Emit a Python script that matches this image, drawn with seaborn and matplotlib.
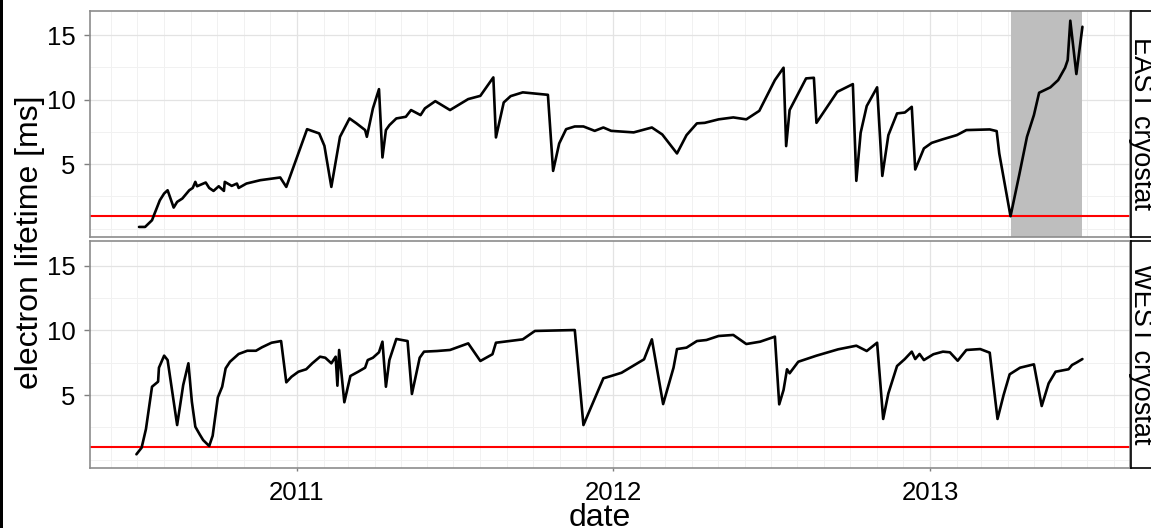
import matplotlib
matplotlib.use("Agg")
import matplotlib.pyplot as plt
import matplotlib.dates as mdates
from matplotlib.patches import Rectangle
import pandas as pd
import seaborn as sns

# ---- data -------------------------------------------------------------
east_dates = [
    "2010-07-03", "2010-07-10", "2010-07-18", "2010-07-21", "2010-07-27", "2010-08-01",
    "2010-08-05", "2010-08-12", "2010-08-16", "2010-08-22", "2010-08-30", "2010-09-03",
    "2010-09-06", "2010-09-08", "2010-09-18", "2010-09-22", "2010-09-27", "2010-10-03",
    "2010-10-09", "2010-10-10", "2010-10-18", "2010-10-24", "2010-10-26", "2010-11-04",
    "2010-11-20", "2010-12-13", "2010-12-20", "2011-01-13", "2011-01-27", "2011-02-02",
    "2011-02-10", "2011-02-16", "2011-02-20", "2011-03-03", "2011-03-11", "2011-03-21",
    "2011-03-23", "2011-03-30", "2011-04-06", "2011-04-10", "2011-04-14", "2011-04-18",
    "2011-04-26", "2011-05-07", "2011-05-13", "2011-05-24", "2011-05-29", "2011-06-10",
    "2011-06-27", "2011-07-18", "2011-08-01", "2011-08-16", "2011-08-19", "2011-08-28",
    "2011-09-05", "2011-09-19", "2011-10-18", "2011-10-24", "2011-10-31", "2011-11-08",
    "2011-11-18", "2011-11-28", "2011-12-11", "2011-12-21", "2011-12-30", "2012-01-25",
    "2012-02-15", "2012-02-27", "2012-03-15", "2012-03-26", "2012-04-07", "2012-04-16",
    "2012-05-02", "2012-05-19", "2012-06-03", "2012-06-18", "2012-07-06", "2012-07-16",
    "2012-07-19", "2012-07-23", "2012-08-11", "2012-08-20", "2012-08-23", "2012-09-16",
    "2012-10-04", "2012-10-08", "2012-10-13", "2012-10-20", "2012-11-01", "2012-11-07",
    "2012-11-14", "2012-11-24", "2012-12-03", "2012-12-11", "2012-12-15", "2012-12-25",
    "2013-01-03", "2013-01-15", "2013-02-01", "2013-02-12", "2013-03-11", "2013-03-19",
    "2013-03-22", "2013-04-04", "2013-04-14", "2013-04-23", "2013-05-01", "2013-05-07",
    "2013-05-20", "2013-05-29", "2013-06-06", "2013-06-09", "2013-06-12", "2013-06-19",
    "2013-06-26",
]
east_lifetime = [
    0.14, 0.14, 0.66, 1.18, 2.20, 2.73,
    2.98, 1.64, 2.08, 2.34, 2.98, 3.16,
    3.63, 3.29, 3.58, 3.16, 2.93, 3.29,
    2.93, 3.63, 3.32, 3.50, 3.16, 3.50,
    3.76, 3.97, 3.24, 7.71, 7.38, 6.42,
    3.24, 5.57, 7.12, 8.54, 8.16, 7.64,
    7.12, 9.32, 10.81, 5.52, 7.64, 8.02,
    8.54, 8.67, 9.19, 8.80, 9.32, 9.88,
    9.19, 10.04, 10.29, 11.72, 7.07, 9.78,
    10.27, 10.56, 10.37, 4.48, 6.60, 7.71,
    7.92, 7.92, 7.58, 7.84, 7.58, 7.46,
    7.84, 7.30, 5.83, 7.25, 8.16, 8.20,
    8.47, 8.62, 8.47, 9.13, 11.51, 12.47,
    6.40, 9.19, 11.64, 11.69, 8.20, 10.60,
    11.20, 3.71, 7.43, 9.50, 10.95, 4.09,
    7.25, 8.93, 9.00, 9.44, 4.59, 6.22,
    6.65, 6.91, 7.25, 7.64, 7.69, 7.56,
    5.83, 0.97, 4.15, 7.12, 8.80, 10.53,
    10.95, 11.51, 12.47, 13.06, 16.11, 11.98,
    15.64,
]

west_dates = [
    "2010-06-30", "2010-07-06", "2010-07-11", "2010-07-18", "2010-07-25", "2010-07-26",
    "2010-08-01", "2010-08-05", "2010-08-16", "2010-08-23", "2010-08-29", "2010-09-02",
    "2010-09-06", "2010-09-11", "2010-09-15", "2010-09-22", "2010-09-26", "2010-10-02",
    "2010-10-07", "2010-10-11", "2010-10-16", "2010-10-26", "2010-11-05", "2010-11-15",
    "2010-11-22", "2010-12-03", "2010-12-14", "2010-12-20", "2010-12-26", "2011-01-03",
    "2011-01-12", "2011-01-19", "2011-01-28", "2011-02-03", "2011-02-10", "2011-02-15",
    "2011-02-17", "2011-02-19", "2011-02-25", "2011-03-04", "2011-03-13", "2011-03-21",
    "2011-03-24", "2011-03-30", "2011-04-06", "2011-04-10", "2011-04-14", "2011-04-18",
    "2011-04-26", "2011-05-09", "2011-05-14", "2011-05-23", "2011-05-28", "2011-06-12",
    "2011-06-27", "2011-07-18", "2011-08-01", "2011-08-15", "2011-08-19", "2011-09-19",
    "2011-10-03", "2011-11-18", "2011-11-28", "2011-12-21", "2011-12-31", "2012-01-11",
    "2012-02-06", "2012-02-15", "2012-02-28", "2012-03-11", "2012-03-15", "2012-03-26",
    "2012-04-07", "2012-04-18", "2012-05-02", "2012-05-19", "2012-06-03", "2012-06-19",
    "2012-07-06", "2012-07-11", "2012-07-16", "2012-07-20", "2012-07-23", "2012-08-02",
    "2012-08-23", "2012-09-17", "2012-10-08", "2012-10-20", "2012-11-01", "2012-11-08",
    "2012-11-14", "2012-11-24", "2012-12-03", "2012-12-11", "2012-12-15", "2012-12-20",
    "2012-12-25", "2013-01-05", "2013-01-16", "2013-01-24", "2013-02-02", "2013-02-12",
    "2013-02-28", "2013-03-11", "2013-03-20", "2013-03-27", "2013-04-03", "2013-04-15",
    "2013-05-01", "2013-05-10", "2013-05-18", "2013-05-26", "2013-06-10", "2013-06-14",
    "2013-06-19", "2013-06-26",
]
west_lifetime = [
    0.42, 0.93, 2.37, 5.64, 6.03, 7.11,
    8.04, 7.70, 2.68, 5.77, 7.45, 4.48,
    2.55, 1.96, 1.52, 1.06, 1.85, 4.82,
    5.64, 7.06, 7.57, 8.17, 8.42, 8.42,
    8.69, 9.04, 9.17, 5.98, 6.41, 6.80,
    6.99, 7.45, 7.96, 7.88, 7.45, 7.96,
    5.72, 8.48, 4.44, 6.47, 6.80, 7.11,
    7.70, 7.88, 8.30, 9.12, 5.64, 7.70,
    9.33, 9.17, 5.08, 7.88, 8.35, 8.40,
    8.48, 8.99, 7.63, 8.15, 9.04, 9.30,
    9.95, 10.02, 2.68, 6.29, 6.49, 6.72,
    7.76, 9.30, 4.30, 7.11, 8.55, 8.66,
    9.17, 9.25, 9.56, 9.64, 8.94, 9.12,
    9.51, 4.28, 5.39, 6.99, 6.68, 7.57,
    8.04, 8.53, 8.81, 8.40, 9.04, 3.15,
    5.13, 7.24, 7.78, 8.35, 7.78, 8.17,
    7.70, 8.15, 8.35, 8.30, 7.65, 8.48,
    8.55, 8.27, 3.15, 5.00, 6.60, 7.11,
    7.37, 4.15, 5.90, 6.80, 6.99, 7.32,
    7.50, 7.78,
]

facet_labels = ["EAST cryostat", "WEST cryostat"]
lifetime_threshold = 1.0
east_shade = ("2013-04-04", "2013-06-26")
year_ticks = ["2011-01-01", "2012-01-01", "2013-01-01"]
y_major = [5, 10, 15]
y_minor = [0, 2.5, 7.5, 12.5]
x_range = ("2010-05-07 10:00", "2013-08-19 22:00")
y_range = (-0.6, 16.86)

# ---- style ------------------------------------------------------------
sns.set_theme(style="white")
plt.rcParams["font.family"] = ["Liberation Sans", "DejaVu Sans"]

W, H = 1151, 528
fig = plt.figure(figsize=(W / 100, H / 100), dpi=100)


def fig_box(left, top, right, bottom):
    return [left / W, 1 - bottom / H, (right - left) / W, (bottom - top) / H]


panel_rows = [(11, 236.5), (241.5, 467.5)]
series = [(east_dates, east_lifetime), (west_dates, west_lifetime)]

axes = []
for i, ((top, bottom), (dates, values)) in enumerate(zip(panel_rows, series)):
    ax = fig.add_axes(fig_box(90, top, 1130, bottom))
    axes.append(ax)
    df = pd.DataFrame({"date": pd.to_datetime(dates), "lifetime": values})

    ax.set_axisbelow(True)
    ax.grid(which="major", color="#e3e3e3", linewidth=0.9)
    ax.grid(which="minor", color="#f1f1f1", linewidth=0.7)

    if i == 0:
        ax.axvspan(pd.Timestamp(east_shade[0]), pd.Timestamp(east_shade[1]),
                   color="#bebebe", lw=0, zorder=1)

    ax.axhline(lifetime_threshold, color="#ff0000", linewidth=1.5, zorder=1.8)
    sns.lineplot(data=df, x="date", y="lifetime", ax=ax, color="black",
                 linewidth=1.9, estimator=None, sort=False, zorder=2.5)

    ax.set_xlim(pd.Timestamp(x_range[0]), pd.Timestamp(x_range[1]))
    ax.set_ylim(*y_range)
    ax.set_xticks(pd.to_datetime(year_ticks))
    ax.xaxis.set_major_formatter(mdates.DateFormatter("%Y"))
    ax.xaxis.set_minor_locator(mdates.MonthLocator())
    ax.set_yticks(y_major)
    ax.set_yticks(y_minor, minor=True)
    ax.set_xlabel("")
    ax.set_ylabel("")

    for side in ax.spines.values():
        side.set_color("#8c8c8c")
        side.set_linewidth(1.2)

    ax.tick_params(which="minor", length=0)
    ax.tick_params(axis="y", which="major", direction="out", length=4, width=1,
                   color="#7f7f7f", labelsize=18.5, labelcolor="black", pad=6.5,
                   left=True)
    if i == 0:
        ax.tick_params(axis="x", which="major", bottom=False, labelbottom=False)
    else:
        ax.tick_params(axis="x", which="major", direction="out", length=2.5,
                       width=1, color="#7f7f7f", labelsize=18.5,
                       labelcolor="black", pad=7.5, bottom=True)

    # facet strip on the right
    strip = fig.add_axes(fig_box(1131, top, 1171, bottom))
    strip.set_facecolor("white")
    strip.set_xticks([])
    strip.set_yticks([])
    for side in strip.spines.values():
        side.set_color("black")
        side.set_linewidth(1.2)
    strip.text(3 / 40, 0.5, facet_labels[i], transform=strip.transAxes,
               rotation=-90, rotation_mode="anchor", ha="center", va="baseline",
               fontsize=19.5, color="black")

fig.text(38 / W, 1 - 242.5 / H, "electron lifetime [ms]", rotation=90,
         rotation_mode="anchor", ha="center", va="baseline", fontsize=23,
         color="black")
fig.text(600 / W, 1 - 526 / H, "date", ha="center", va="baseline",
         fontsize=23, color="black")

fig.add_artist(Rectangle((0, 0), 3 / W, 1, transform=fig.transFigure,
                         color="black", lw=0))

fig.savefig("out.png", dpi=100)
